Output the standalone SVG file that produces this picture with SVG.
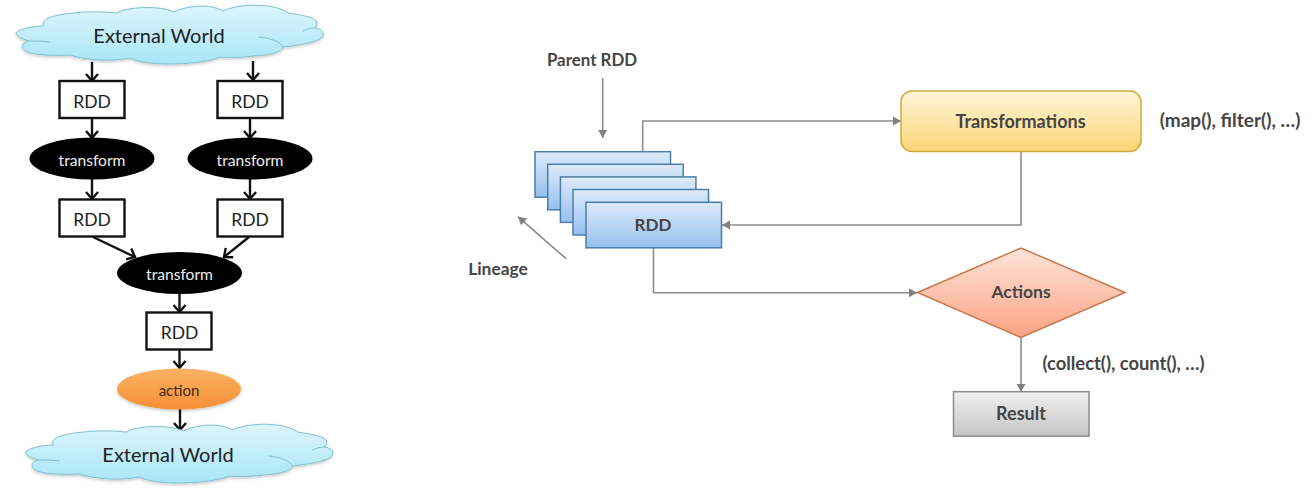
<svg xmlns="http://www.w3.org/2000/svg" width="1314" height="492" viewBox="0 0 1314 492">
<style>
text{font-family:Lato,"Open Sans","Liberation Sans",sans-serif;text-anchor:middle}
.cloudt{font-size:20px;fill:#222}
.rdd{font-size:17.500px;fill:#222}
.ov{font-size:15.600px;fill:#eee}
.lbl{font-size:18px;font-weight:700;fill:#454545}
.box{fill:#fff;stroke:#111;stroke-width:2.400}
.blk{stroke:#111;stroke-width:2.400;fill:none;marker-end:url(#open)}
.gry{stroke:#8c8c8c;stroke-width:1.600;fill:none;marker-end:url(#tri)}
.stack{fill:url(#blue);stroke:#4a7ea8;stroke-width:1.500}
</style>
<defs>
<filter id="sh" x="-5%" y="-10%" width="110%" height="125%"><feDropShadow dx="0" dy="1.500" stdDeviation="1.500" flood-color="#000" flood-opacity="0.22"/></filter>
<linearGradient id="sky" x1="0" y1="0" x2="0" y2="1"><stop offset="0" stop-color="#dcf5fc"/><stop offset="1" stop-color="#a9e6f8"/></linearGradient>
<linearGradient id="blue" x1="0" y1="0" x2="0" y2="1"><stop offset="0" stop-color="#deebfa"/><stop offset="1" stop-color="#95c0ee"/></linearGradient>
<linearGradient id="yel" x1="0" y1="0" x2="0" y2="1"><stop offset="0" stop-color="#fff5da"/><stop offset="1" stop-color="#fbd676"/></linearGradient>
<linearGradient id="sal" x1="0" y1="0" x2="0" y2="1"><stop offset="0" stop-color="#fde4da"/><stop offset="1" stop-color="#fca383"/></linearGradient>
<linearGradient id="gr" x1="0" y1="0" x2="0" y2="1"><stop offset="0" stop-color="#f0f0f0"/><stop offset="1" stop-color="#c4c4c4"/></linearGradient>
<linearGradient id="org" x1="0" y1="0" x2="0" y2="1"><stop offset="0" stop-color="#fbb264"/><stop offset="1" stop-color="#f58f35"/></linearGradient>
<marker id="open" markerUnits="userSpaceOnUse" markerWidth="16" markerHeight="16" refX="13" refY="8" orient="auto"><path d="M6 2 L13 8 L6 14" fill="none" stroke="#111" stroke-width="2.400"/></marker>
<marker id="tri" markerUnits="userSpaceOnUse" markerWidth="10" markerHeight="12" refX="9" refY="6" orient="auto"><path d="M1 1.500 L9 6 L1 10.500 Z" fill="#808080"/></marker>
<g id="cl">
<path d="M16 33 C19 29 33 26 44 26 C40 20 50 15 75 13 C88 11 108 12 117 13 C125 7 160 5 174 12 C185 6 210 3 223 11 C240 3 275 3 288 13 C300 15 317 17 317 23 C318 26 314 27 315 28 C323 29 325 34 322 37 C318 42 300 45 283 47 C282 52 270 55 254 56 C235 58 222 58 220 57 C205 64 150 68 130 58 C110 62 85 60 70 55 C50 56 25 55 23 48 C21 44 25 42 29 41 C22 39 16 36 16 33 Z" fill="url(#sky)" stroke="#7fbfd0" stroke-width="1"/>
<path d="M29 41 C35 41 43 41 50 42 M315 28 C311 28 306 29 303 31 M283 47 C281 42 270 38 259 37" fill="none" stroke="#7fbfd0" stroke-width="1"/>
</g>
</defs>
<rect width="1314" height="492" fill="#fff"/>

<g id="connectors">
<path class="blk" d="M92 62V81"/>
<path class="blk" d="M253 61V80"/>
<path class="blk" d="M92 118V138"/>
<path class="blk" d="M250 118V138"/>
<path class="blk" d="M92 179V199"/>
<path class="blk" d="M250 179V199"/>
<path class="blk" d="M93 237L135 257"/>
<path class="blk" d="M249 237L224 257"/>
<path class="blk" d="M179.500 293V312"/>
<path class="blk" d="M179.500 349V368"/>
<path class="blk" d="M180 409V430"/>
<path class="gry" d="M602.700 78V138"/>
<path class="gry" d="M642.700 151V121H901"/>
<path class="gry" d="M1021 152V225H722"/>
<path class="gry" d="M653.500 248V292.700H917"/>
<path class="gry" d="M1021 338V392"/>
<path class="gry" d="M566 258.700L518 216.700"/>
</g>

<g id="cloud-top"><use href="#cl" filter="url(#sh)"/><text class="cloudt" x="159" y="43">External World</text></g>
<g id="cloud-bottom"><use href="#cl" transform="translate(9.500 419)" filter="url(#sh)"/><text class="cloudt" x="168" y="462">External World</text></g>

<g id="rdd-1"><rect class="box" x="59.500" y="81" width="65" height="37"/><text class="rdd" x="92" y="108">RDD</text></g>
<g id="rdd-2"><rect class="box" x="217.500" y="81" width="65" height="37"/><text class="rdd" x="250" y="108">RDD</text></g>
<g id="transform-1"><ellipse cx="92" cy="158.500" rx="62.500" ry="21" fill="#000"/><text class="ov" x="92" y="166">transform</text></g>
<g id="transform-2"><ellipse cx="250" cy="158.500" rx="62.500" ry="21" fill="#000"/><text class="ov" x="250" y="166">transform</text></g>
<g id="rdd-3"><rect class="box" x="59.500" y="199.500" width="65" height="37"/><text class="rdd" x="92" y="226">RDD</text></g>
<g id="rdd-4"><rect class="box" x="217.500" y="199.500" width="65" height="37"/><text class="rdd" x="250" y="226">RDD</text></g>
<g id="transform-3"><ellipse cx="179.500" cy="273" rx="62.500" ry="21" fill="#000"/><text class="ov" x="179.500" y="280">transform</text></g>
<g id="rdd-5"><rect class="box" x="146.500" y="312.500" width="65" height="37"/><text class="rdd" x="179.500" y="339">RDD</text></g>
<g id="action"><ellipse cx="179" cy="389" rx="62" ry="20.500" fill="url(#org)" filter="url(#sh)"/><text class="ov" style="font-size:15px;fill:#3a2a1a" x="179" y="396">action</text></g>

<g id="rdd-stack">
<rect class="stack" x="535" y="151.700" width="135.500" height="45.500"/>
<rect class="stack" x="547.700" y="164.300" width="135.500" height="45.500"/>
<rect class="stack" x="560.400" y="176.900" width="135.500" height="45.500"/>
<rect class="stack" x="573" y="189.500" width="135.500" height="45.500"/>
<rect class="stack" x="586" y="202.300" width="135.500" height="45.500"/>
<text class="lbl" style="font-size:17px" x="653" y="231">RDD</text>
</g>
<g id="parent-label"><text class="lbl" style="font-size:16.900px" x="592" y="66">Parent RDD</text></g>
<g id="lineage-label"><text class="lbl" style="font-size:17.400px" x="498" y="275">Lineage</text></g>
<g id="transformations"><rect x="901" y="91" width="240" height="60.500" rx="11" fill="url(#yel)" stroke="#d1ac3c" stroke-width="1.500"/><text class="lbl" x="1020.500" y="128">Transformations</text></g>
<g id="map-label"><text class="lbl" style="font-size:19px" x="1230" y="127">(map(), filter(), …)</text></g>
<g id="actions"><path d="M917.500 292.500L1021 248L1125 292.500L1021 337.500Z" fill="url(#sal)" stroke="#c8764a" stroke-width="1.500"/><text class="lbl" style="font-size:17.500px" x="1021" y="298">Actions</text></g>
<g id="collect-label"><text class="lbl" x="1123.500" y="370" style="font-size:18.400px">(collect(), count(), …)</text></g>
<g id="result"><rect x="953.500" y="391.700" width="135.500" height="44.500" fill="url(#gr)" stroke="#8c8c8c" stroke-width="1.500"/><text class="lbl" x="1021" y="419.500">Result</text></g>
</svg>
